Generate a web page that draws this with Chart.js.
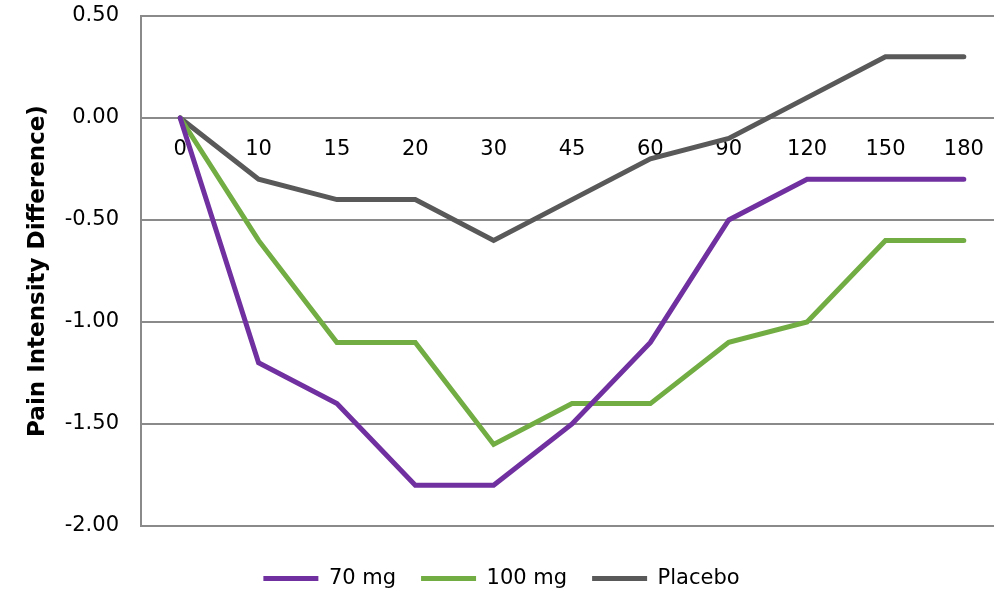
<!DOCTYPE html>
<html>
<head>
<meta charset="utf-8">
<script src="https://cdn.jsdelivr.net/npm/chart.js@4.4.1/dist/chart.umd.min.js"></script>
<style>
  html, body { margin: 0; padding: 0; background: #fff; overflow: hidden; }
  #wrap { width: 1003px; height: 593px; }
</style>
</head>
<body>
<div id="wrap"><canvas id="painChart" width="1003" height="593"></canvas></div>
<script>
// minutes after dose
const minutes = ['0', '10', '15', '20', '30', '45', '60', '90', '120', '150', '180'];
const dose70 = [0, -1.2, -1.4, -1.8, -1.8, -1.5, -1.1, -0.5, -0.3, -0.3, -0.3];
const dose100 = [0, -0.6, -1.1, -1.1, -1.6, -1.4, -1.4, -1.1, -1.0, -0.6, -0.6];
const placebo = [0, -0.3, -0.4, -0.4, -0.6, -0.4, -0.2, -0.1, 0.1, 0.3, 0.3];

const FONT = 'DejaVu Sans';
const gridGray = '#8a8a8a';

function line(label, data, color) {
  return {
    label, data,
    borderColor: color,
    backgroundColor: color,
    borderWidth: 5,
    pointRadius: 0,
    pointStyle: 'line',
    tension: 0,
    borderCapStyle: 'round',
    borderJoinStyle: 'miter'
  };
}

new Chart(document.getElementById('painChart').getContext('2d'), {
  type: 'line',
  data: {
    labels: minutes,
    datasets: [
      line('70 mg', dose70, '#7030a0'),
      line('100 mg', dose100, '#72ad44'),
      line('Placebo', placebo, '#595959')
    ]
  },
  options: {
    responsive: false,
    animation: false,
    layout: { padding: { top: 16, right: 0, bottom: 0, left: 0 } },
    plugins: {
      legend: {
        position: 'bottom',
        maxHeight: 50,
        labels: {
          color: '#000',
          font: { family: FONT, size: 21 },
          usePointStyle: true,
          pointStyleWidth: 55,
          boxHeight: 5,
          padding: 25
        }
      },
      tooltip: { enabled: false }
    },
    scales: {
      x: {
        position: { y: 0 },
        offset: true,
        grid: { display: false, drawTicks: false },
        border: { display: false },
        ticks: { color: '#000', font: { family: FONT, size: 21 }, padding: 19, maxRotation: 0 }
      },
      gap: {
        type: 'linear',
        axis: 'x',
        position: 'bottom',
        grid: { display: false, drawTicks: false },
        border: { display: false },
        ticks: { display: false },
        afterFit: s => { s.height = 17; }
      },
      y: {
        min: -2, max: 0.5,
        afterFit: s => { s.width = 141; s.paddingTop = 0; s.paddingBottom = 0; },
        grid: { color: gridGray, lineWidth: 2, drawTicks: false },
        border: { display: true, color: gridGray, width: 2 },
        ticks: {
          stepSize: 0.5,
          color: '#000',
          font: { family: FONT, size: 21 },
          padding: 22,
          callback: v => Number(v).toFixed(2)
        },
        title: {
          display: true,
          text: 'Pain Intensity Difference)',
          color: '#000',
          font: { family: FONT, size: 23, weight: 'bold' },
          padding: { top: 24, bottom: 0 }
        }
      }
    }
  }
});
</script>
</body>
</html>
